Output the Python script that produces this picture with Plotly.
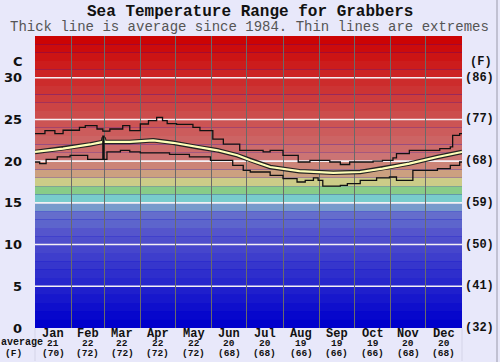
import plotly.graph_objects as go

# ---------------- data ----------------
months = ["Jan", "Feb", "Mar", "Apr", "May", "Jun", "Jul", "Aug", "Sep", "Oct", "Nov", "Dec"]
month_start_days = [0, 31, 59, 90, 120, 151, 181, 212, 243, 273, 304, 334, 365]
month_avg_c = [21, 22, 22, 22, 22, 20, 20, 19, 19, 19, 20, 20]
month_avg_f = [70, 72, 72, 72, 72, 68, 68, 66, 66, 66, 68, 68]

upper_days = [0, 8.5, 17, 24, 38, 43, 53, 58, 64, 75, 81, 90, 97, 104, 109, 113, 121, 135, 141,
              152, 161, 175, 184, 195, 201, 212, 225, 235, 252, 261, 269, 289, 297, 306, 309,
              320, 346, 355, 357, 363, 365]
upper_c = [23.3, 23.65, 23.3, 23.7, 24.05, 24.25, 23.85, 23.6, 23.85, 24.25, 23.65, 24.45, 24.85,
           25.25, 24.85, 24.5, 24.4, 24.05, 23.65, 22.65, 22.05, 21.3, 21.3, 21.1, 21.3, 20.7,
           19.9, 20.1, 19.9, 19.6, 19.9, 20.0, 20.1, 20.4, 20.9, 21.3, 21.5, 21.7, 23.1, 23.3, 23.3]

lower_days = [0, 4, 9.5, 19, 30, 45, 58, 59, 61.5, 73, 81, 90, 115, 132, 150, 169, 178, 184, 201,
              212, 224, 231, 238, 242, 246, 261, 267, 278, 292, 303, 309, 323, 344, 355, 363, 365]
lower_c = [19.9, 19.7, 20.2, 20.5, 20.7, 20.2, 23.0, 20.2, 21.1, 21.3, 21.1, 21.0, 20.8, 20.5,
           20.1, 19.5, 18.9, 18.7, 18.3, 17.9, 17.5, 17.7, 18.0, 17.7, 17.0, 17.1, 17.3, 17.7,
           18.0, 18.1, 17.7, 18.9, 19.1, 19.5, 19.9, 19.9]

avg_days = [0, 24, 47, 58, 58.7, 59.4, 81, 101, 118, 138, 156, 173, 184, 201, 226, 255, 278, 297,
            320, 344, 361, 365]
avg_c = [21.1, 21.5, 22.0, 22.3, 22.8, 22.3, 22.3, 22.5, 22.2, 21.7, 21.3, 20.7, 20.1, 19.3,
         18.8, 18.6, 18.7, 19.1, 19.7, 20.5, 21.0, 21.1]

y_ticks_c = [0, 5, 10, 15, 20, 25, 30]
y_ticks_f = ["(32)", "(41)", "(50)", "(59)", "(68)", "(77)", "(86)"]
grid_c = [5, 10, 15, 20, 25, 30]

# ---------------- style ----------------
BG = "#e8e8fa"
MONO = "Liberation Mono"
SANS = "DejaVu Sans"

band_colors = []
for t in range(35):
    if t <= 13:
        v = int(t * 7.8)
        band_colors.append(f"rgb({v},{v + (8 if t >= 12 else 0)},204)")
    elif t == 14:
        band_colors.append("#789acc")
    elif t == 15:
        band_colors.append("#78cccc")
    elif t == 16:
        band_colors.append("#88cc88")
    elif t == 17:
        band_colors.append("#cccc88")
    elif t == 18:
        band_colors.append("#cca080")
    elif t == 19:
        band_colors.append("#cc8478")
    else:
        g = max(0, 0x74 - (t - 20) * 8)
        band_colors.append(f"rgb(204,{g},{g})")

L, R, T, B = 35, 38, 36, 34
W, H = 500, 362
PW, PH = W - L - R, H - T - B


def px(x):
    return (x - L) / PW


def py(y):
    return (H - B - y) / PH


fig = go.Figure()

# average line (dark edge + pale core)
fig.add_trace(go.Scatter(x=avg_days, y=avg_c, mode="lines",
                         line=dict(color="#222222", width=4.5), hoverinfo="skip", showlegend=False))
fig.add_trace(go.Scatter(x=avg_days, y=avg_c, mode="lines",
                         line=dict(color="#ffffb8", width=2.2), hoverinfo="skip", showlegend=False))
# extremes
fig.add_trace(go.Scatter(x=upper_days, y=upper_c, mode="lines", line_shape="hv",
                         line=dict(color="#111111", width=1.3), hoverinfo="skip", showlegend=False))
fig.add_trace(go.Scatter(x=lower_days, y=lower_c, mode="lines", line_shape="hv",
                         line=dict(color="#111111", width=1.3), hoverinfo="skip", showlegend=False))

shapes = []
for t, col in enumerate(band_colors):
    shapes.append(dict(type="rect", xref="paper", yref="y", x0=0, x1=1, y0=t, y1=t + 1,
                       fillcolor=col, line=dict(width=0), layer="below"))
for g in grid_c:
    shapes.append(dict(type="line", xref="paper", yref="y", x0=0, x1=1, y0=g, y1=g,
                       line=dict(color="#f4f0f4", width=1.6), layer="between"))
# faint table lines below plot and right border
for xx in (35, 462):
    shapes.append(dict(type="line", xref="paper", yref="paper", x0=px(xx), x1=px(xx),
                       y0=py(361), y1=py(328), line=dict(color="#d4d4e8", width=1)))
shapes.append(dict(type="line", xref="paper", yref="paper", x0=px(497), x1=px(497),
                   y0=py(362), y1=py(0), line=dict(color="#9a9aaa", width=1)))

ann = []
ann.append(dict(text="<b>Sea Temperature Range for Grabbers</b>", x=px(250), y=py(12),
                font=dict(family=MONO, size=16, color="#111111")))
ann.append(dict(text="Thick line is average since 1984. Thin lines are extremes", x=px(249), y=py(27),
                font=dict(family=MONO, size=14, color="#555555")))
ann.append(dict(text="<b>C</b>", x=px(18), y=py(61), font=dict(family=SANS, size=13, color="#111111")))
ann.append(dict(text="<b>(F)</b>", x=px(481), y=py(62), font=dict(family=MONO, size=12, color="#111111")))
for v, ft in zip(y_ticks_c, y_ticks_f):
    ann.append(dict(text=f"<b>{v}</b>", x=px(23), y=v, yref="y", xanchor="right",
                    font=dict(family=SANS, size=13, color="#111111")))
    ann.append(dict(text=f"<b>{ft}</b>", x=px(464), y=v, yref="y", xanchor="left",
                    font=dict(family=MONO, size=12, color="#111111")))
ann.append(dict(text="<b>average</b>", x=px(22), y=py(342.5), font=dict(family=MONO, size=10, color="#111111")))
ann.append(dict(text="<b>(F)</b>", x=px(13), y=py(353), font=dict(family=MONO, size=9.5, color="#111111")))
for i, m in enumerate(months):
    mid = (month_start_days[i] + month_start_days[i + 1]) / 2
    ann.append(dict(text=f"<b>{m}</b>", x=mid, xref="x", y=py(333.5),
                    font=dict(family=MONO, size=12, color="#111111")))
    ann.append(dict(text=f"<b>{month_avg_c[i]}</b>", x=mid, xref="x", y=py(343.5),
                    font=dict(family=MONO, size=9.5, color="#111111")))
    ann.append(dict(text=f"<b>({month_avg_f[i]})</b>", x=mid, xref="x", y=py(353.5),
                    font=dict(family=MONO, size=9.5, color="#111111")))
for a in ann:
    a.setdefault("xref", "paper")
    a.setdefault("yref", "paper")
    a.setdefault("xanchor", "center")
    a["yanchor"] = "middle"
    a["showarrow"] = False
    a["borderpad"] = 0

fig.update_layout(
    width=W, height=H,
    margin=dict(l=L, r=R, t=T, b=B, autoexpand=False),
    paper_bgcolor=BG, plot_bgcolor="#0000cc",
    shapes=shapes, annotations=ann,
    xaxis=dict(range=[0, 365], tickvals=month_start_days, showticklabels=False,
               showgrid=True, gridcolor="#6a6a6a", gridwidth=1, zeroline=False,
               showline=False, ticks="", fixedrange=True, automargin=False),
    yaxis=dict(range=[0, 35], tickvals=y_ticks_c, showticklabels=False,
               showgrid=False, zeroline=False, showline=False, ticks="",
               fixedrange=True, automargin=False),
)

fig.write_html("out.html", config={"displayModeBar": False},
               post_script="document.body.style.margin='0';document.body.style.background='" + BG + "';")
